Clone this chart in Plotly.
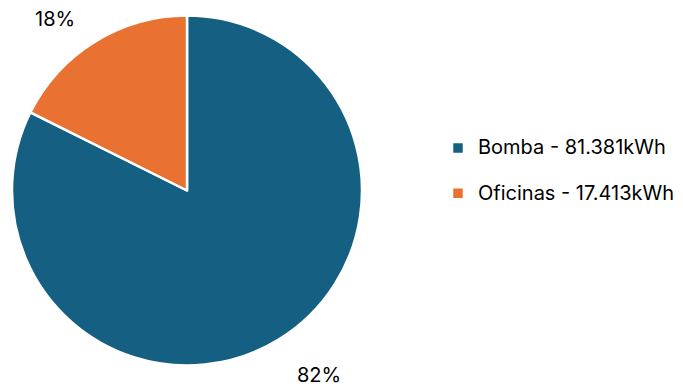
import math
import plotly.graph_objects as go

# Energy consumption by load (kWh)
categories = ["Bomba", "Oficinas"]
consumption_kwh = [81381, 17413]
colors = ["#156082", "#E97132"]

W, H = 683, 388
FONT = "Inter"
TEXT_SIZE = 20

def fmt_thousands(v):
    return f"{v:,}".replace(",", ".")

entry_text = [f"{c} - {fmt_thousands(v)}kWh" for c, v in zip(categories, consumption_kwh)]
# a blank second line widens the gap between legend rows
legend_labels = [f"<span style='font-size:{TEXT_SIZE}px'>{t}</span><br> " for t in entry_text]

# pie placement in pixels
cx, cy, r = 187, 190.5, 175
dom_x = [(cx - r) / W, (cx + r) / W]
dom_y = [1 - (cy + r) / H, 1 - (cy - r) / H]

fig = go.Figure(go.Pie(
    labels=legend_labels,
    values=consumption_kwh,
    customdata=entry_text,
    marker=dict(colors=colors, line=dict(color="white", width=2.5)),
    sort=False,
    direction="clockwise",
    rotation=0,
    textinfo="none",
    hovertemplate="%{customdata}<br>%{percent}<extra></extra>",
    domain=dict(x=dom_x, y=dom_y),
))

# percentage labels outside each slice, placed along the slice's mid angle
total = sum(consumption_kwh)
start = 0.0
annotations = []
for v in consumption_kwh:
    frac = v / total
    mid = (start + frac / 2) * 2 * math.pi
    start += frac
    s, c = math.sin(mid), math.cos(mid)
    px = cx + s * r * 1.43
    py = cy - c * r * 1.195 + 6.8
    annotations.append(dict(
        x=px / W, y=1 - py / H, xref="paper", yref="paper",
        text=f"{round(frac * 100)}%", showarrow=False,
        xanchor="center", yanchor="middle",
        font=dict(family=FONT, size=TEXT_SIZE, color="#000000"),
    ))

fig.update_layout(
    width=W, height=H,
    margin=dict(l=0, r=0, t=0, b=0),
    paper_bgcolor="white",
    plot_bgcolor="white",
    font=dict(family=FONT, size=TEXT_SIZE, color="#000000"),
    showlegend=True,
    legend=dict(
        x=438 / W, y=0.532, xanchor="left", yanchor="middle",
        valign="top",
        font=dict(family=FONT, size=16.2, color="#000000"),
        itemwidth=30,
    ),
    annotations=annotations,
)

fig.write_html("out.html")
